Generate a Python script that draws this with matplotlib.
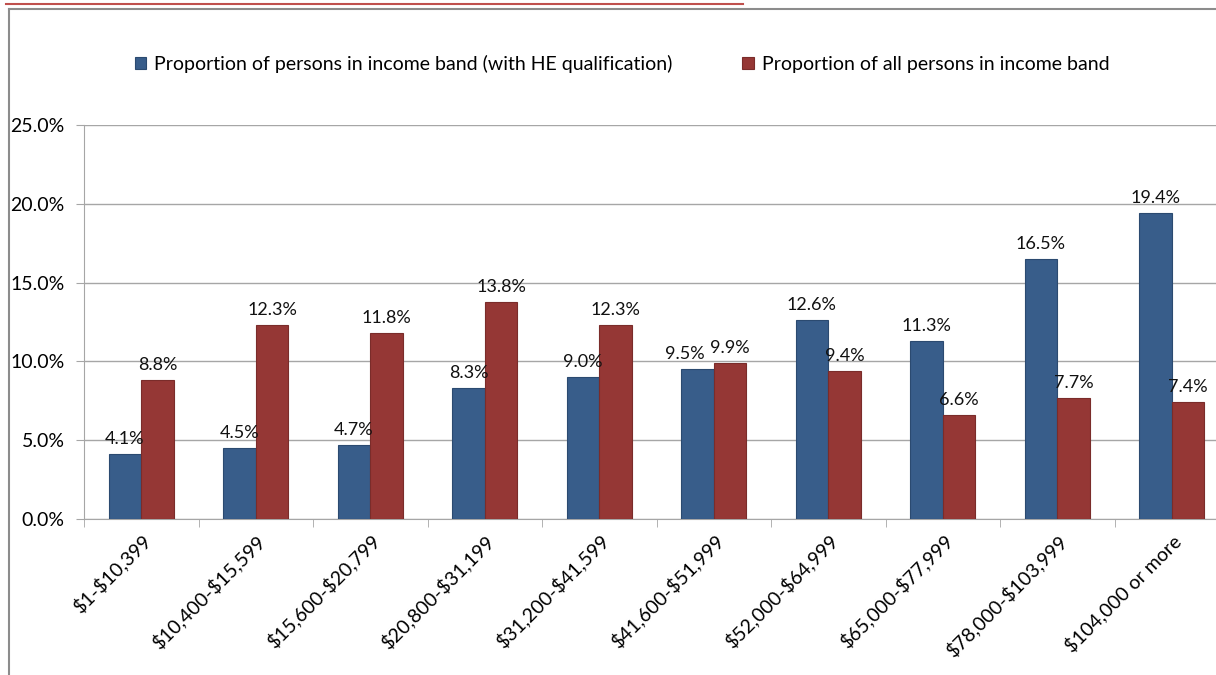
import numpy as np
import matplotlib.pyplot as plt
from matplotlib.lines import Line2D

plt.rcParams['font.family'] = ['Lato', 'DejaVu Sans']

bands = ["\\$1-\\$10,399", "\\$10,400-\\$15,599", "\\$15,600-\\$20,799", "\\$20,800-\\$31,199",
         "\\$31,200-\\$41,599", "\\$41,600-\\$51,999", "\\$52,000-\\$64,999", "\\$65,000-\\$77,999",
         "\\$78,000-\\$103,999", "\\$104,000 or more"]
he_qualified = [4.1, 4.5, 4.7, 8.3, 9.0, 9.5, 12.6, 11.3, 16.5, 19.4]
all_persons = [8.8, 12.3, 11.8, 13.8, 12.3, 9.9, 9.4, 6.6, 7.7, 7.4]
series_names = ["Proportion of persons in income band (with HE qualification)",
                "Proportion of all persons in income band"]
y_ticks = [0, 5, 10, 15, 20, 25]

blue = "#385d8a"
red = "#953735"
fs = 14

fig = plt.figure(figsize=(12.16, 6.75), dpi=100)
ax = fig.add_axes([84 / 1216, 156 / 675, 1145 / 1216, 394 / 675])

x = np.arange(len(bands))
w = 1 / 3.5
b1 = ax.bar(x - w / 2, he_qualified, w, color=blue, edgecolor="#2b4a70", linewidth=0.8,
            label=series_names[0], zorder=3)
b2 = ax.bar(x + w / 2, all_persons, w, color=red, edgecolor="#7a2c2a", linewidth=0.8,
            label=series_names[1], zorder=3)

for k, bars in enumerate((b1, b2)):
    for i, rect in enumerate(bars):
        v = rect.get_height()
        # nudge the left label where the two bars are about the same height
        dx = -9 if (k == 0 and abs(he_qualified[i] - all_persons[i]) < 1) else 0
        ax.annotate(f"{v:.1f}%", (rect.get_x() + rect.get_width() / 2, v),
                    xytext=(dx, 5), textcoords="offset points",
                    ha="center", va="bottom", fontsize=13, color="#111111")

ax.set_xlim(-0.5, len(bands) - 0.5)
ax.set_ylim(0, 25)
ax.set_yticks(y_ticks)
ax.set_yticklabels([f"{t:.1f}%" for t in y_ticks], fontsize=fs)
ax.yaxis.grid(True, color="#a6a6a6", linewidth=1)
ax.set_axisbelow(True)

# category labels at centres, tick marks between categories
ax.set_xticks(x)
ax.set_xticklabels(bands, rotation=45, ha="right", va="top", rotation_mode="anchor",
                   fontsize=fs)
ax.tick_params(axis="x", length=0, pad=9)
ax.set_xticks(np.arange(len(bands) + 1) - 0.5, minor=True)
ax.tick_params(axis="x", which="minor", length=6, color="#a6a6a6", direction="out")
ax.tick_params(axis="y", length=6, color="#a6a6a6", direction="out", pad=8)

for side in ("top", "right"):
    ax.spines[side].set_visible(False)
for side in ("left", "bottom"):
    ax.spines[side].set_color("#a6a6a6")

leg = fig.legend(handles=[b1, b2], labels=series_names, loc="center",
                 bbox_to_anchor=(622 / 1216, 1 - 64 / 675), ncol=2, frameon=False,
                 fontsize=fs, handlelength=0.6, handleheight=0.6, handletextpad=0.4,
                 columnspacing=3.6)

# outer chart border and the red rule above it
fig.add_artist(Line2D([9 / 1216, 9 / 1216], [0, 1 - 9 / 675], color="#8c8c8c", linewidth=1.5))
fig.add_artist(Line2D([9 / 1216, 1], [1 - 9 / 675, 1 - 9 / 675], color="#8c8c8c", linewidth=1.5))
fig.add_artist(Line2D([6 / 1216, 743 / 1216], [1 - 3.5 / 675, 1 - 3.5 / 675],
                      color="#c0504d", linewidth=1.5))

fig.savefig("out.png", dpi=100)
